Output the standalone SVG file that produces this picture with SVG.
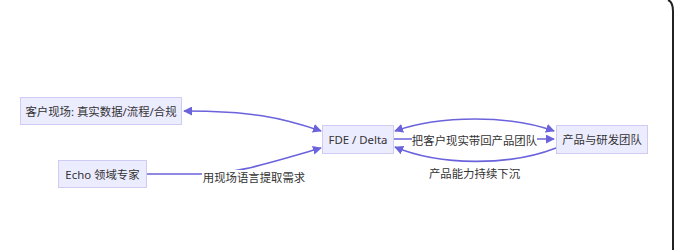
<svg xmlns="http://www.w3.org/2000/svg" width="675" height="250" viewBox="0 0 675 250">
<style>
.node rect{fill:#ECECFF;stroke:#CFCBF5;stroke-width:1}
text{font-family:"Noto Sans","Noto Sans CJK SC",sans-serif;font-size:11.4px;fill:#333;text-anchor:middle;dominant-baseline:central}
.edge{fill:none;stroke:#6B63DC;stroke-width:1.6}
.lbg{fill:#fff}
</style>
<defs>
<marker id="ah" viewBox="0 0 10 10" refX="9" refY="5" markerWidth="9" markerHeight="9" markerUnits="userSpaceOnUse" orient="auto-start-reverse">
<path d="M0,0 L10,5 L0,10 z" fill="#6B63DC"/>
</marker>
</defs>
<rect width="675" height="250" fill="#fff"/>
<path d="M668,0 Q673,2 673,11 L673,250" fill="none" stroke="#222" stroke-width="2"/>
<g id="connectors">
<path class="edge" d="M184,111 C250,111 280,117 321,131" marker-start="url(#ah)" marker-end="url(#ah)"/>
<path class="edge" d="M147,174 L200,174 C235,174 262,165 321,148" marker-end="url(#ah)"/>
<path class="edge" d="M395,131 C440,115 510,115 554,131" marker-start="url(#ah)" marker-end="url(#ah)"/>
<path class="edge" d="M394,139 L554,139" marker-end="url(#ah)"/>
<path class="edge" d="M556,148 C510,166 440,166 395,147" marker-end="url(#ah)"/>
<rect class="lbg" x="202" y="170" width="104" height="16"/>
<text x="254" y="177.5">用现场语言提取需求</text>
<rect class="lbg" x="412" y="132" width="125" height="16"/>
<text x="474.5" y="140">把客户现实带回产品团队</text>
<rect class="lbg" x="428" y="165" width="93" height="16"/>
<text x="474.5" y="173">产品能力持续下沉</text>
</g>
<g id="customer" class="node">
<rect x="20.5" y="97.5" width="161" height="27"/>
<text x="101" y="111">客户现场: 真实数据/流程/合规</text>
</g>
<g id="echo" class="node">
<rect x="58.5" y="160.5" width="88" height="27"/>
<text x="102.5" y="174">Echo 领域专家</text>
</g>
<g id="fde" class="node">
<rect x="322.5" y="125.5" width="71" height="28"/>
<text x="358" y="139.5">FDE / Delta</text>
</g>
<g id="product" class="node">
<rect x="556.5" y="125.5" width="91" height="28"/>
<text x="602" y="139.5">产品与研发团队</text>
</g>
</svg>
